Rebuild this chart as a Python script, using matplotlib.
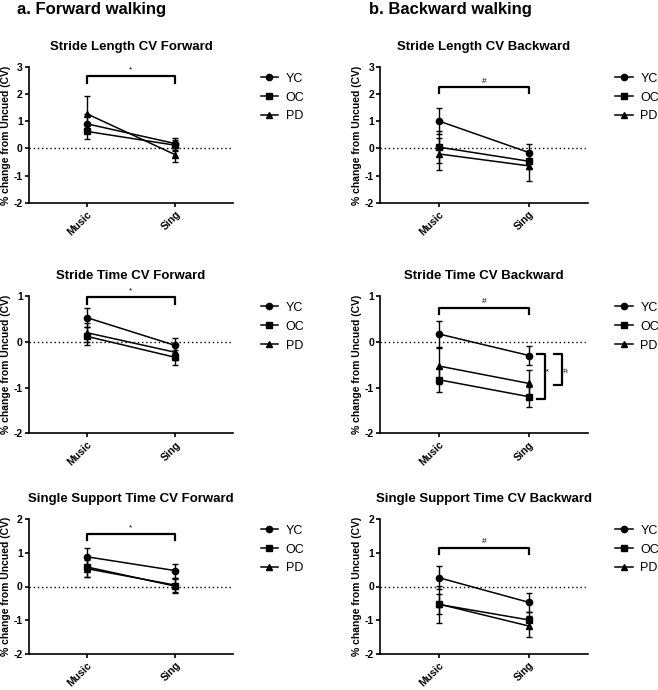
#
# Gait variability: % change from uncued walking (CV), forward vs backward walking.
#
import matplotlib.pyplot as plt
from matplotlib.lines import Line2D

plt.rcParams['font.family'] = ['Liberation Sans', 'DejaVu Sans']
plt.rcParams['axes.unicode_minus'] = False

conditions = ['Music', 'Sing']
groups = ['YC', 'OC', 'PD']
group_markers = ['o', 's', '^']

titles = ['Stride Length CV Forward', 'Stride Length CV Backward',
          'Stride Time CV Forward', 'Stride Time CV Backward',
          'Single Support Time CV Forward', 'Single Support Time CV Backward']

# mean per group (YC, OC, PD) for Music, Sing
sl_fwd_mean = [[0.91, 0.18], [0.63, 0.12], [1.28, -0.23]]
sl_fwd_err = [[0.35, 0.22], [0.27, 0.20], [0.65, 0.25]]
sl_bwd_mean = [[1.01, -0.15], [0.05, -0.47], [-0.20, -0.64]]
sl_bwd_err = [[0.48, 0.33], [0.60, 0.30], [0.60, 0.55]]
st_fwd_mean = [[0.53, -0.08], [0.12, -0.34], [0.20, -0.23]]
st_fwd_err = [[0.21, 0.16], [0.20, 0.16], [0.20, 0.16]]
st_bwd_mean = [[0.17, -0.30], [-0.83, -1.20], [-0.53, -0.91]]
st_bwd_err = [[0.29, 0.20], [0.26, 0.22], [0.40, 0.29]]
sst_fwd_mean = [[0.88, 0.47], [0.58, 0.01], [0.53, 0.04]]
sst_fwd_err = [[0.27, 0.21], [0.30, 0.20], [0.25, 0.20]]
sst_bwd_mean = [[0.26, -0.47], [-0.53, -0.99], [-0.52, -1.17]]
sst_bwd_err = [[0.34, 0.28], [0.55, 0.25], [0.30, 0.31]]

means = [sl_fwd_mean, sl_bwd_mean, st_fwd_mean, st_bwd_mean, sst_fwd_mean, sst_bwd_mean]
errs = [sl_fwd_err, sl_bwd_err, st_fwd_err, st_bwd_err, sst_fwd_err, sst_bwd_err]

y_limits = [(-2, 3), (-2, 3), (-2, 1), (-2, 1), (-2, 2), (-2, 2)]
# Music vs Sing bracket: (height, tick depth, symbol)
brackets = [(2.66, 0.24, '*'), (2.25, 0.22, '#'), (0.98, 0.15, '*'),
            (0.74, 0.13, '#'), (1.55, 0.18, '*'), (1.15, 0.19, '#')]

fig = plt.figure(figsize=(6.58, 6.90), dpi=100)

col_x = [0.044, 0.578]
col_w = [0.310, 0.315]
row_y = [0.706, 0.372, 0.052]
row_h = [0.197, 0.199, 0.196]

fig.text(0.026, 0.997, 'a. Forward walking', fontsize=12, fontweight='bold', va='top')
fig.text(0.561, 0.997, 'b. Backward walking', fontsize=12, fontweight='bold', va='top')

legend_handles = [Line2D([0], [0], color='black', marker=m, markersize=4.5, linewidth=1.1)
                  for m in group_markers]

xpos = [0, 1]
for i in range(6):
    r, c = divmod(i, 2)
    ax = fig.add_axes([col_x[c], row_y[r], col_w[c], row_h[r]])

    for g in range(3):
        ax.errorbar(xpos, means[i][g], yerr=errs[i][g], color='black', marker=group_markers[g],
                    markersize=4.5, linewidth=1.1, elinewidth=1.0, capsize=2.5, capthick=1.0,
                    zorder=3)

    ax.axhline(0, color='black', linestyle=(0, (1, 2)), linewidth=1.0, zorder=1)

    lo, hi = y_limits[i]
    ax.set_ylim(lo, hi)
    ax.set_yticks(range(lo, hi + 1))
    ax.set_xlim(-0.65, 1.65)
    ax.set_xticks(xpos)
    ax.set_xticklabels(conditions, rotation=45, ha='right', rotation_mode='anchor')

    for lab in ax.get_xticklabels() + ax.get_yticklabels():
        lab.set_fontweight('bold')
        lab.set_fontsize(7.5)

    ax.spines['top'].set_visible(False)
    ax.spines['right'].set_visible(False)
    ax.spines['left'].set_linewidth(1.2)
    ax.spines['bottom'].set_linewidth(1.2)
    ax.tick_params(width=1.2, length=3, pad=1.5)

    ax.set_title(titles[i], fontsize=9.5, fontweight='bold', pad=12)
    ax.set_ylabel('% change from Uncued (CV)', fontsize=7.5, fontweight='bold', labelpad=2)

    # significance bracket Music vs Sing
    h, d, sym = brackets[i]
    ax.plot([0, 0, 1, 1], [h - d, h, h, h - d], color='black', linewidth=1.6,
            clip_on=False, zorder=4)
    ax.text(0.5, h + (hi - lo) * 0.02, sym, ha='center', va='bottom', fontsize=6, clip_on=False)

    if i == 3:
        # group differences at Sing (YC vs OC, YC vs PD)
        ax.plot([1.09, 1.18, 1.18, 1.09], [-0.26, -0.26, -1.25, -1.25], color='black',
                linewidth=1.6, clip_on=False)
        ax.text(1.23, -0.6, '*', rotation=90, ha='center', va='center', fontsize=6)
        ax.plot([1.28, 1.37, 1.37, 1.28], [-0.26, -0.26, -0.95, -0.95], color='black',
                linewidth=1.6, clip_on=False)
        ax.text(1.43, -0.6, '#', rotation=90, ha='center', va='center', fontsize=6)

    ax.legend(legend_handles, groups, loc='upper left', bbox_to_anchor=(1.08, 1.04),
              frameon=False, fontsize=9, handlelength=1.4, handletextpad=0.6,
              labelspacing=0.55, numpoints=1)

fig.savefig('out.png', dpi=100)
